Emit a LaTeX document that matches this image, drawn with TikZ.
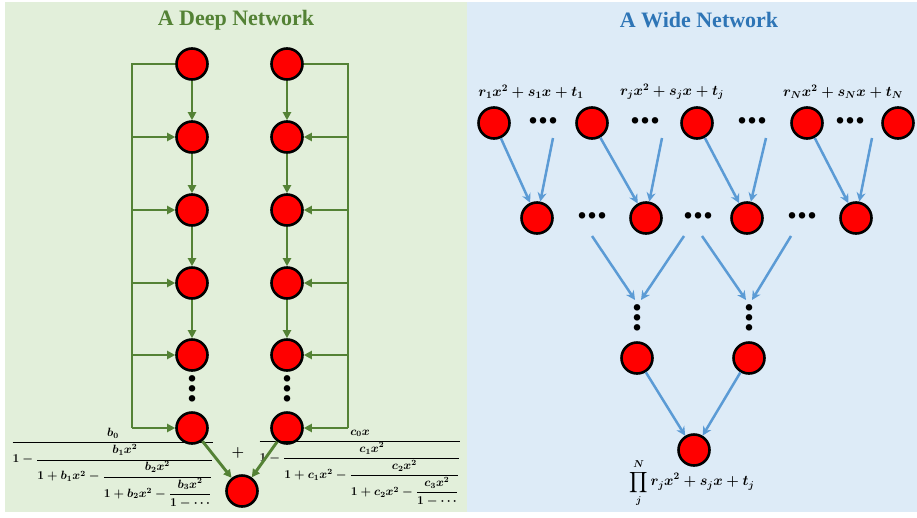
\documentclass[tikz,border=0pt]{standalone}
\usepackage{amsmath}
\usepackage{fontspec}
\setmainfont{Liberation Serif}
\usepackage{tikz}
\usetikzlibrary{arrows.meta, positioning, calc}
\definecolor{deepbg}{RGB}{226, 239, 218}
\definecolor{widebg}{RGB}{221, 235, 247}
\definecolor{deepcolor}{RGB}{84, 130, 53}
\definecolor{widecolor}{RGB}{91, 155, 213}
\definecolor{widetitle}{RGB}{46, 117, 182}

\begin{document}
\begin{tikzpicture}[
    x=1pt, y=-1pt,
    unit/.style={circle, draw=black, line width=2.6pt, fill=red, minimum size=31pt, inner sep=0pt},
    deepline/.style={draw=deepcolor, line width=2.9pt},
    deeparrow/.style={deepline, -{Triangle[length=8pt, width=8pt]}},
    widearrow/.style={draw=widecolor, line width=2.5pt, -{Stealth[length=9pt, width=9pt]}},
    title/.style={font=\fontsize{22}{26}\selectfont\bfseries},
    formula/.style={font=\fontsize{12}{14}\selectfont\boldmath, inner sep=0pt},
    label/.style={font=\fontsize{14}{16}\selectfont\boldmath, inner sep=0pt},
    dotsh/.style={font=\fontsize{40}{40}\selectfont\bfseries, inner sep=0pt},
    dotsv/.style={font=\fontsize{40}{10}\selectfont\bfseries, align=center, inner sep=0pt}
]
    \useasboundingbox (0,0) rectangle (917,517);

    % Panels
    \fill[deepbg] (5,2) rectangle (467,512);
    \fill[widebg] (467,2) rectangle (917,512);
    \node[title, text=deepcolor] (deeptitle) at (236,20) {A Deep Network};
    \node[title, text=widetitle] (widetitle) at (699,20) {A Wide Network};

    % Deep network: left column
    \node[unit] (L1) at (192,64) {};
    \node[unit] (L2) at (192,137) {};
    \node[unit] (L3) at (192,210) {};
    \node[unit] (L4) at (192,283) {};
    \node[unit] (L5) at (192,355) {};
    \node[dotsv] (Ldots) at (192,389) {.\\.\\.};
    \node[unit] (L6) at (192,428) {};

    % Deep network: right column
    \node[unit] (R1) at (287,64) {};
    \node[unit] (R2) at (287,137) {};
    \node[unit] (R3) at (287,210) {};
    \node[unit] (R4) at (287,283) {};
    \node[unit] (R5) at (287,355) {};
    \node[dotsv] (Rdots) at (287,389) {.\\.\\.};
    \node[unit] (R6) at (287,428) {};

    % Output of the deep network
    \node[unit] (D) at (242,491) {};

    % Continued fractions
    \node[formula] (bfrac) at (113,468) {$\dfrac{b_0}{1-\dfrac{b_1x^2}{1+b_1x^2-\dfrac{b_2x^2}{1+b_2x^2-\dfrac{b_3x^2}{1-\cdots}}}}$};
    \node[formula] (cfrac) at (360,468) {$\dfrac{c_0x}{1-\dfrac{c_1x^2}{1+c_1x^2-\dfrac{c_2x^2}{1+c_2x^2-\dfrac{c_3x^2}{1-\cdots}}}}$};
    \node[label] (plus) at (238,453) {$+$};

    % Skip lines
    \coordinate (lskip) at (132,64);
    \coordinate (rskip) at (348,64);
    \draw[deepline] (L1) -- (lskip) -- (lskip |- L6);
    \draw[deepline] (R1) -- (rskip) -- (rskip |- R6);

    \draw[deeparrow] (lskip |- L2) -- (L2);
    \draw[deeparrow] (lskip |- L3) -- (L3);
    \draw[deeparrow] (lskip |- L4) -- (L4);
    \draw[deeparrow] (lskip |- L5) -- (L5);
    \draw[deeparrow] (lskip |- L6) -- (L6);

    \draw[deeparrow] (rskip |- R2) -- (R2);
    \draw[deeparrow] (rskip |- R3) -- (R3);
    \draw[deeparrow] (rskip |- R4) -- (R4);
    \draw[deeparrow] (rskip |- R5) -- (R5);
    \draw[deeparrow] (rskip |- R6) -- (R6);

    % Layer to layer
    \draw[deeparrow] (L1) -- (L2);
    \draw[deeparrow] (L2) -- (L3);
    \draw[deeparrow] (L3) -- (L4);
    \draw[deeparrow] (L4) -- (L5);
    \draw[deeparrow] (R1) -- (R2);
    \draw[deeparrow] (R2) -- (R3);
    \draw[deeparrow] (R3) -- (R4);
    \draw[deeparrow] (R4) -- (R5);

    \draw[deeparrow] (L6) -- (D);
    \draw[deeparrow] (R6) -- (D);

    % Wide network: first layer
    \node[unit] (A1) at (494,123) {};
    \node[dotsh] (Adots1) at (543,121) {...};
    \node[unit] (A2) at (592,123) {};
    \node[dotsh] (Adots2) at (645,121) {...};
    \node[unit] (A3) at (697,123) {};
    \node[dotsh] (Adots3) at (752,121) {...};
    \node[unit] (A4) at (807,123) {};
    \node[dotsh] (Adots4) at (850,121) {...};
    \node[unit] (A5) at (898,123) {};

    \node[label] (poly1) at (531,92) {$r_1x^2+s_1x+t_1$};
    \node[label] (polyj) at (672,92) {$r_jx^2+s_jx+t_j$};
    \node[label] (polyN) at (843,92) {$r_Nx^2+s_Nx+t_N$};

    % Wide network: second layer
    \node[unit] (B1) at (537,218) {};
    \node[dotsh] (Bdots1) at (592,216) {...};
    \node[unit] (B2) at (646,218) {};
    \node[dotsh] (Bdots2) at (698,216) {...};
    \node[unit] (B3) at (747,218) {};
    \node[dotsh] (Bdots3) at (802,216) {...};
    \node[unit] (B4) at (856,218) {};

    \coordinate (a1) at (553,138);
    \coordinate (a2) at (662,138);
    \coordinate (a3) at (766,138);
    \coordinate (a4) at (872,138);

    \draw[widearrow] (A1) -- (B1);
    \draw[widearrow] (a1) -- (B1);
    \draw[widearrow] (A2) -- (B2);
    \draw[widearrow] (a2) -- (B2);
    \draw[widearrow] (A3) -- (B3);
    \draw[widearrow] (a3) -- (B3);
    \draw[widearrow] (A4) -- (B4);
    \draw[widearrow] (a4) -- (B4);

    % Wide network: third layer
    \coordinate (b1) at (592,236);
    \coordinate (b2) at (684,236);
    \coordinate (b3) at (702,236);
    \coordinate (b4) at (791,236);
    \coordinate (m1) at (635,300);
    \coordinate (m2) at (641,300);
    \coordinate (m3) at (746,300);
    \coordinate (m4) at (752,300);

    \draw[widearrow] (b1) -- (m1);
    \draw[widearrow] (b2) -- (m2);
    \draw[widearrow] (b3) -- (m3);
    \draw[widearrow] (b4) -- (m4);

    \node[dotsv] (Cdots1) at (637,318) {.\\.\\.};
    \node[dotsv] (Cdots2) at (749,318) {.\\.\\.};
    \node[unit] (C1) at (637,358) {};
    \node[unit] (C2) at (749,358) {};

    % Output of the wide network
    \node[unit] (W) at (694,450) {};
    \draw[widearrow] (C1) -- (W);
    \draw[widearrow] (C2) -- (W);
    \node[label] (prod) at (692,483) {$\displaystyle\prod_{j}^{N}r_jx^2+s_jx+t_j$};

\end{tikzpicture}
\end{document}
